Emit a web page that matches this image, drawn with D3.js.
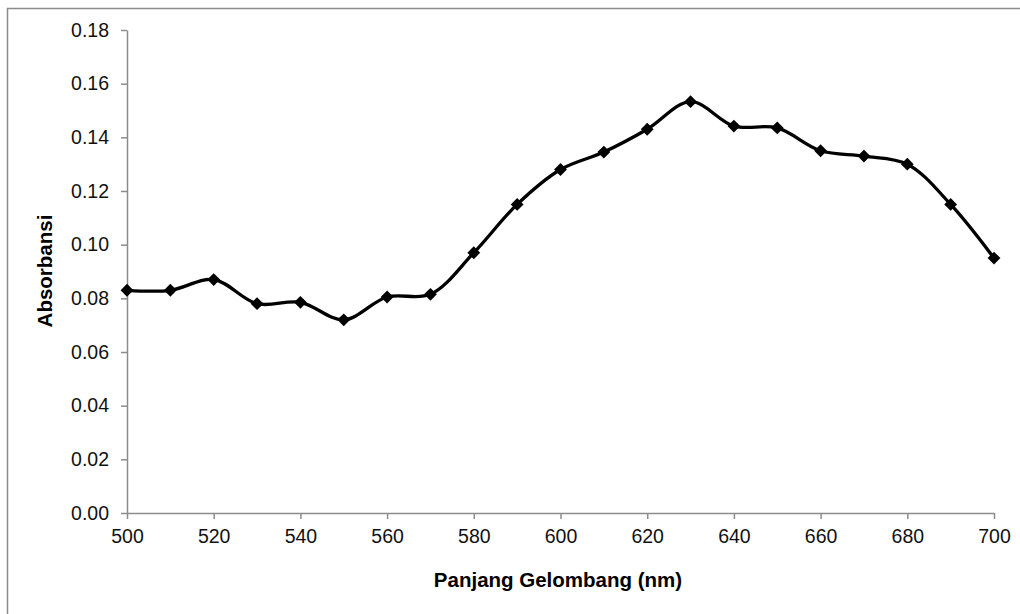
<!DOCTYPE html>
<html><head><meta charset="utf-8">
<script src="https://cdn.jsdelivr.net/npm/d3@7"></script>
<style>body{margin:0;background:#fff}svg{display:block}</style>
</head><body><svg id="c" width="1020" height="614"></svg>
<script>
const wavelengths = [500,510,520,530,540,550,560,570,580,590,600,610,620,630,640,650,660,670,680,690,700];
const absorbance = [0.083,0.083,0.087,0.078,0.0785,0.072,0.0805,0.0815,0.097,0.115,0.128,0.1345,0.143,0.1533,0.1442,0.1435,0.135,0.133,0.130,0.115,0.095];
const xTicks = [500,520,540,560,580,600,620,640,660,680,700];
const yTicks = [0,0.02,0.04,0.06,0.08,0.10,0.12,0.14,0.16,0.18];

const svg = d3.select("#c");
const font = "'Liberation Sans', Arial, sans-serif";
// outer frame
svg.append("rect").attr("x",7.5).attr("y",8.5).attr("width",1030).attr("height",640)
  .attr("fill","none").attr("stroke","#8c8c8c").attr("stroke-width",1.5);

const x = d3.scaleLinear().domain([500,700]).range([127,994]);
const y = d3.scaleLinear().domain([0,0.18]).range([513,30]);

const xa = svg.append("g").attr("transform","translate(0,513)")
  .call(d3.axisBottom(x).tickValues(xTicks).tickSize(6).tickSizeOuter(0).tickPadding(10).tickFormat(d3.format("d")));
const ya = svg.append("g").attr("transform","translate(127,0)")
  .call(d3.axisLeft(y).tickValues(yTicks).tickSize(6).tickSizeOuter(0).tickPadding(12).tickFormat(d3.format(".2f")));
[xa,ya].forEach(a=>{
  a.attr("font-size",null).attr("font-family",null);
  a.selectAll("path,line").attr("stroke","#8c8c8c").attr("stroke-width",1.5);
  a.selectAll("text").style("font-family",font).style("font-size","19.5px").attr("fill","#111");
});

const line = d3.line().x((d,i)=>x(wavelengths[i])).y(d=>y(d)).curve(d3.curveCatmullRom.alpha(0.5));
svg.append("path").datum(absorbance).attr("d",line).attr("fill","none")
  .attr("stroke","#000").attr("stroke-width",3.3);

svg.append("g").selectAll("path").data(absorbance).join("path")
  .attr("transform",(d,i)=>`translate(${x(wavelengths[i])},${y(d)})`)
  .attr("d",d3.symbol(d3.symbolDiamond2,105)()).attr("fill","#000");

svg.append("text").attr("x",558).attr("y",587).attr("text-anchor","middle")
  .style("font-family",font).style("font-size","20.5px").attr("font-weight","bold").text("Panjang Gelombang (nm)");
svg.append("text").attr("transform","translate(52,271) rotate(-90)").attr("text-anchor","middle")
  .style("font-family",font).style("font-size","20.5px").attr("font-weight","bold").text("Absorbansi");
</script></body></html>
